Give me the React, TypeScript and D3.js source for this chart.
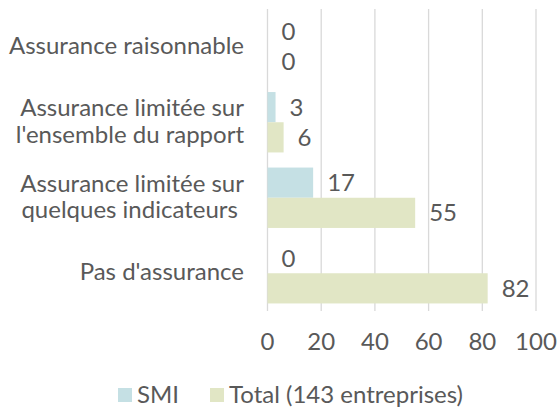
import React from "react";
import * as d3 from "d3";

const categories: string[][] = [
  ["Assurance raisonnable"],
  ["Assurance limitée sur", "l'ensemble du rapport"],
  ["Assurance limitée sur", "quelques indicateurs\u00a0"],
  ["Pas d'assurance"],
];
const seriesNames = ["SMI", "Total (143 entreprises)"];
const smiValues = [0, 3, 17, 0];
const totalValues = [0, 6, 55, 82];
const xTicks = [0, 20, 40, 60, 80, 100];
const colors = ["#c5e0e4", "#e1e6c5"];

const W = 558;
const H = 409;
const FONT = "Lato, 'Open Sans', sans-serif";
const TEXT = "#595959";
const FS = 24;

export default function App() {
  const x = d3.scaleLinear().domain([0, 100]).range([267.5, 536]);
  const idx = categories.map((_, i) => String(i));
  const y = d3.scaleBand<string>().domain(idx).range([9, 311]).paddingInner(0.2).paddingOuter(0.1);
  const yInner = d3.scaleBand<string>().domain(["0", "1"]).range([0, y.bandwidth()]);
  const series = [smiValues, totalValues];
  const [top, bottom] = y.range();

  return (
    <svg width={W} height={H} style={{ position: "absolute", left: 0, top: 0, background: "#fff" }}
      fontFamily={FONT}>
      {xTicks.map((t) => (
        <line key={"g" + t} x1={x(t)} x2={x(t)} y1={top} y2={bottom} stroke="#d9d9d9" strokeWidth={1.3} />
      ))}
      {series.map((vals, s) =>
        vals.map((v, i) => (
          <rect key={`b${s}-${i}`} x={x(0)} y={y(String(i))! + yInner(String(s))!}
            width={x(v) - x(0)} height={yInner.bandwidth()} fill={colors[s]} />
        ))
      )}
      {series.map((vals, s) =>
        vals.map((v, i) => (
          <text key={`l${s}-${i}`} x={x(v) + 14} y={y(String(i))! + yInner(String(s))! + yInner.bandwidth() / 2 + 8.5}
            fontSize={FS} fill={TEXT}>{v}</text>
        ))
      )}
      {xTicks.map((t) => (
        <text key={"t" + t} x={x(t)} y={350} textAnchor="middle" fontSize={FS} fill={TEXT}>{t}</text>
      ))}
      {categories.map((lines, i) => {
        const cy = y(String(i))! + y.bandwidth() / 2;
        const lh = 26.5;
        return (
          <text key={"c" + i} x={244} textAnchor="end" fontSize={FS} fill={TEXT} style={{ whiteSpace: "pre" }}>
            {lines.map((ln, k) => (
              <tspan key={k} x={244} y={cy + 7 + (k - (lines.length - 1) / 2) * lh}>{ln}</tspan>
            ))}
          </text>
        );
      })}
      <g>
        <rect x={118} y={388} width={14} height={14} fill={colors[0]} />
        <text x={137} y={403} fontSize={FS} fill={TEXT}>{seriesNames[0]}</text>
        <rect x={210} y={388} width={14} height={14} fill={colors[1]} />
        <text x={229} y={403} fontSize={FS} fill={TEXT}>{seriesNames[1]}</text>
      </g>
    </svg>
  );
}
